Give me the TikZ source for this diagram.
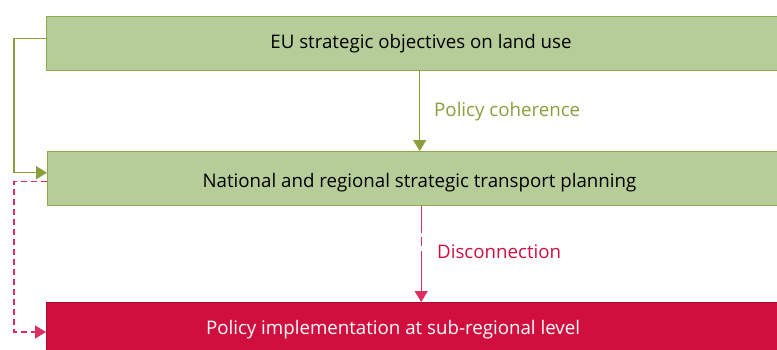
\documentclass[tikz,border=0pt]{standalone}
\usepackage{fontspec}
\setmainfont{Open Sans}
\usetikzlibrary{positioning,arrows.meta,calc}
\definecolor{boxgreen}{HTML}{B6CD99}
\definecolor{edgegreen}{HTML}{8FA84C}
\definecolor{olive}{HTML}{8A9E3C}
\definecolor{boxred}{HTML}{D10F3F}
\definecolor{linered}{HTML}{DB2F62}
\tikzset{
  greenbox/.style={draw=edgegreen,fill=boxgreen,line width=1.4pt,minimum width=749pt,
    minimum height=54pt,anchor=north west,inner sep=0pt},
  redbox/.style={draw=boxred!80!black,fill=boxred,line width=1pt,minimum width=749pt,
    minimum height=60pt,anchor=north west,inner sep=0pt},
  boxtext/.style={font=\fontsize{18.7}{22}\selectfont},
  greenarrow/.style={draw=olive,line width=1.4pt,-{Triangle[length=11pt,width=13pt]}},
  redarrow/.style={draw=linered,line width=1.4pt,-{Triangle[length=11pt,width=13pt]}},
  linklabel/.style={anchor=west,inner sep=0pt,font=\fontsize{18.7}{22}\selectfont}
}
\begin{document}
\begin{tikzpicture}[x=1pt,y=-1pt]
\useasboundingbox (0,0) rectangle (777,349);
\clip (0,0) rectangle (777,349);
\node[greenbox] (eu) at (46,15.5) {};
\node[greenbox] (plan) at (47,151) {};
\node[redbox] (impl) at (46,302) {};
\node[boxtext] (eutext) at (421,44) {EU strategic objectives on land use};
\node[boxtext] (plantext) at (419.5,182.5) {National and regional strategic transport planning};
\node[boxtext,text=white] (impltext) at (393,330) {Policy implementation at sub-regional level};
\draw[greenarrow] ([xshift=-1.5pt]eu.south) -- ([xshift=-1.5pt]eu.south |- plan.north);
\node[linklabel,text=olive] (coh) at (434,111.5) {Policy coherence};
\draw[redarrow,dash pattern=on 27pt off 4pt on 9pt off 5pt on 80pt off 0pt] ([xshift=-1pt]plan.south) -- ([xshift=-1pt]plan.south |- impl.north);
\node[linklabel,text=boxred] (dis) at (437,251.5) {Disconnection};
\draw[greenarrow] ([yshift=5pt]eu.west) -- ++(-32,0) |- ([yshift=6pt]plan.west);
\draw[redarrow,dash pattern=on 6pt off 4pt] ([yshift=-3pt]plan.west) -- ++(-33,0) |- ([yshift=-30pt]impl.north west);
\end{tikzpicture}
\end{document}
